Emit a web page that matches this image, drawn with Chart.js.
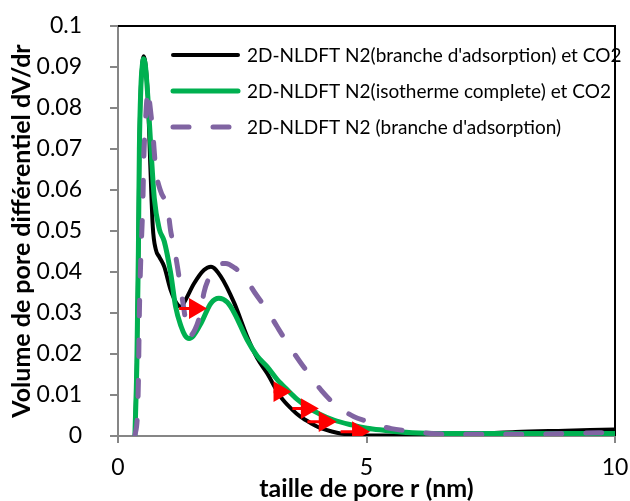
<!DOCTYPE html>
<html>
<head>
<meta charset="utf-8">
<script src="https://cdn.jsdelivr.net/npm/chart.js@4.4.0/dist/chart.umd.min.js"></script>
<style>
  html, body { margin: 0; padding: 0; background: #fff; }
</style>
</head>
<body>
<canvas id="poreChart" width="630" height="501"></canvas>
<script>
// series names (legend)
const seriesNames = [
  "2D-NLDFT N2(branche d'adsorption) et CO2",
  "2D-NLDFT N2(isotherme complete) et CO2",
  "2D-NLDFT N2 (branche d'adsorption)"
];

// pore size r (nm) / dV/dr
const blackX = [0.34, 0.38, 0.41, 0.43, 0.46, 0.49, 0.515, 0.55, 0.60, 0.65, 0.70, 0.76, 0.83, 0.93, 1.06, 1.20, 1.27, 1.35, 1.53, 1.73, 1.87, 2.07, 2.34, 2.60, 2.80, 3.00, 3.27, 3.50, 3.67, 3.90, 4.08, 4.30, 4.48, 4.75, 5.00, 5.50, 6.00, 6.50, 7.00, 7.50, 8.00, 9.00, 10.0];
const blackY = [0, 0.018, 0.045, 0.070, 0.085, 0.091, 0.0926, 0.091, 0.083, 0.066, 0.051, 0.0455, 0.0437, 0.0413, 0.0356, 0.032, 0.0315, 0.033, 0.0372, 0.0405, 0.0413, 0.0389, 0.0324, 0.0242, 0.019, 0.0153, 0.0096, 0.0065, 0.0047, 0.003, 0.0019, 0.0011, 0.0006, 0.0003, 0.0001, 0.0001, 0.0001, 0.0002, 0.0004, 0.0007, 0.001, 0.0013, 0.0016];

const greenX = [0.34, 0.38, 0.41, 0.43, 0.46, 0.49, 0.515, 0.55, 0.60, 0.66, 0.73, 0.83, 0.93, 1.06, 1.16, 1.27, 1.35, 1.43, 1.52, 1.67, 1.87, 2.03, 2.20, 2.34, 2.60, 2.80, 3.00, 3.20, 3.41, 3.60, 3.81, 4.05, 4.34, 4.70, 5.01, 5.35, 5.68, 6.20, 7.00, 8.00, 9.00, 10.0];
const greenY = [0, 0.018, 0.045, 0.070, 0.085, 0.0905, 0.092, 0.0905, 0.0828, 0.0706, 0.058, 0.0505, 0.0475, 0.0397, 0.0315, 0.0267, 0.0245, 0.0238, 0.0245, 0.0275, 0.0324, 0.0336, 0.0326, 0.030, 0.0234, 0.0195, 0.0169, 0.0138, 0.0112, 0.009, 0.0071, 0.0054, 0.0039, 0.0027, 0.0019, 0.0014, 0.001, 0.0007, 0.0006, 0.0006, 0.0006, 0.0006];

const purpleX = [0.34, 0.39, 0.41, 0.43, 0.45, 0.47, 0.50, 0.52, 0.55, 0.58, 0.605, 0.64, 0.70, 0.76, 0.85, 1.00, 1.06, 1.13, 1.20, 1.30, 1.38, 1.45, 1.55, 1.66, 1.73, 1.85, 2.00, 2.17, 2.35, 2.54, 2.75, 3.00, 3.20, 3.41, 3.65, 3.88, 4.10, 4.34, 4.55, 4.75, 5.00, 5.21, 5.50, 5.88, 6.30, 7.00, 8.00, 9.00, 10.0];
const purpleY = [0, 0.005, 0.013, 0.030, 0.040, 0.047, 0.057, 0.068, 0.076, 0.082, 0.0845, 0.081, 0.074, 0.065, 0.060, 0.0555, 0.050, 0.046, 0.041, 0.033, 0.027, 0.0245, 0.026, 0.030, 0.035, 0.039, 0.0415, 0.0421, 0.041, 0.0389, 0.035, 0.0307, 0.0267, 0.0226, 0.0183, 0.0145, 0.011, 0.008, 0.0061, 0.0047, 0.0036, 0.0027, 0.0018, 0.0012, 0.0006, 0.0004, 0.0004, 0.0006, 0.0009];

// red arrows: tail x, head x, level
const arrowTail = [1.23, 3.13, 3.51, 3.81, 4.48];
const arrowHead = [1.55, 3.25, 3.80, 4.16, 4.83];
const arrowY = [0.0311, 0.0108, 0.0067, 0.0035, 0.00105];

const yTicks = [0, 0.01, 0.02, 0.03, 0.04, 0.05, 0.06, 0.07, 0.08, 0.09, 0.1];
const xTicks = [0, 5, 10];

const FONT = 'Lato';

function toPoints(xs, ys) {
  return xs.map((x, i) => ({ x: x, y: ys[i] }));
}

const arrowPoints = [];
arrowTail.forEach((t, i) => {
  arrowPoints.push({ x: t, y: arrowY[i] });
  arrowPoints.push({ x: arrowHead[i], y: arrowY[i] });
  arrowPoints.push({ x: arrowHead[i], y: null });
});

const frameAndLegend = {
  id: 'frameAndLegend',
  beforeDatasetsDraw(chart) {
    const { ctx, chartArea: a } = chart;
    ctx.save();
    ctx.strokeStyle = '#000';
    ctx.lineWidth = 2;
    ctx.beginPath();
    ctx.moveTo(a.left, a.top);
    ctx.lineTo(a.right, a.top);
    ctx.lineTo(a.right, a.bottom);
    ctx.stroke();
    ctx.restore();
  },
  afterDatasetsDraw(chart) {
    const { ctx, chartArea: a } = chart;
    ctx.save();
    ctx.font = '19px ' + FONT;
    ctx.textBaseline = 'middle';
    ctx.fillStyle = '#000';
    seriesNames.forEach((name, i) => {
      const ds = chart.data.datasets[i];
      const y = a.top + 29 + i * 36;
      ctx.strokeStyle = ds.borderColor;
      ctx.lineWidth = ds.borderWidth;
      ctx.lineCap = 'round';
      ctx.setLineDash(ds.borderDash || []);
      ctx.beginPath();
      ctx.moveTo(a.left + 55, y);
      ctx.lineTo(a.left + (ds.borderDash ? 112 : 120), y);
      ctx.stroke();
      ctx.setLineDash([]);
      ctx.fillText(name, a.left + 129, y + 1);
    });
    ctx.restore();
  }
};

const config = {
  type: 'line',
  data: {
    datasets: [
      {
        label: seriesNames[0],
        data: toPoints(blackX, blackY),
        borderColor: '#000000',
        borderWidth: 4,
        pointRadius: 0,
        cubicInterpolationMode: 'monotone',
        order: 3
      },
      {
        label: seriesNames[1],
        data: toPoints(greenX, greenY),
        borderColor: '#00b050',
        borderWidth: 5,
        pointRadius: 0,
        cubicInterpolationMode: 'monotone',
        order: 2
      },
      {
        label: seriesNames[2],
        data: toPoints(purpleX, purpleY),
        borderColor: '#8064a2',
        borderWidth: 5,
        borderDash: [16, 24],
        borderCapStyle: 'round',
        pointRadius: 0,
        cubicInterpolationMode: 'monotone',
        order: 1
      },
      {
        label: 'arrows',
        data: arrowPoints,
        borderColor: '#ff0000',
        borderWidth: 3,
        backgroundColor: '#ff0000',
        pointBackgroundColor: '#ff0000',
        pointBorderColor: '#ff0000',
        pointStyle: 'triangle',
        rotation: 90,
        pointRadius: ctx => (ctx.dataIndex % 3 === 1 ? 9 : 0),
        spanGaps: false,
        order: 0
      }
    ]
  },
  options: {
    responsive: false,
    animation: false,
    devicePixelRatio: 1,
    events: [],
    layout: { padding: { top: 0, right: 0, left: 0, bottom: 0 } },
    plugins: {
      legend: { display: false },
      tooltip: { enabled: false }
    },
    scales: {
      x: {
        type: 'linear',
        min: 0,
        max: 10,
        afterFit: scale => {
          scale.height = 65;
          scale.paddingLeft = 0;
          scale.paddingRight = 15;
        },
        afterBuildTicks: scale => { scale.ticks = xTicks.map(v => ({ value: v })); },
        ticks: { color: '#000', font: { family: FONT, size: 23 }, padding: 11, maxRotation: 0 },
        grid: { drawOnChartArea: false, tickLength: 7, color: '#868686', lineWidth: 2 },
        border: { color: '#868686', width: 2 },
        title: {
          display: true,
          text: 'taille de pore r (nm)',
          color: '#000',
          font: { family: FONT, size: 25, weight: 'bold', lineHeight: 1 },
          padding: { top: 0, bottom: 0 }
        }
      },
      y: {
        min: 0,
        max: 0.1,
        afterFit: scale => {
          scale.width = 118;
          scale.paddingTop = 26;
          scale.paddingBottom = 0;
        },
        afterBuildTicks: scale => { scale.ticks = yTicks.map(v => ({ value: v })); },
        ticks: {
          color: '#000',
          font: { family: FONT, size: 23 },
          padding: 28,
          callback: v => String(parseFloat(v.toFixed(2)))
        },
        grid: { drawOnChartArea: false, tickLength: 8, color: '#868686', lineWidth: 2 },
        border: { color: '#868686', width: 2 },
        title: {
          display: true,
          text: 'Volume de pore différentiel dV/dr',
          color: '#000',
          font: { family: FONT, size: 25, weight: 'bold', lineHeight: 1 },
          padding: { top: 9, bottom: 0 }
        }
      }
    }
  },
  plugins: [frameAndLegend]
};

const ctx = document.getElementById('poreChart').getContext('2d');
const poreChart = new Chart(ctx, config);
</script>
</body>
</html>
